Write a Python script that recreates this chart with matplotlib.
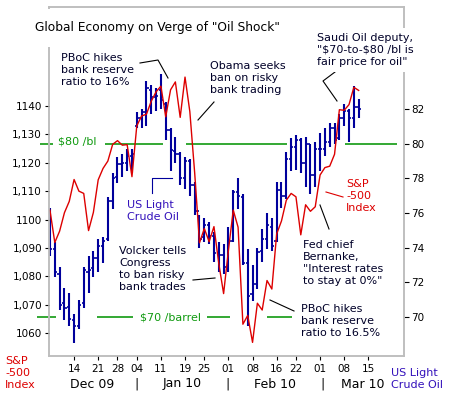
import numpy as np
import pandas as pd
import matplotlib
matplotlib.use("Agg")
import matplotlib.pyplot as plt
from matplotlib.lines import Line2D

W, H = 451, 399

# trading days (Dec 7, 2009 -> Mar 15, 2010), US market holidays removed
holidays = ["2009-12-25", "2010-01-01", "2010-01-18", "2010-02-15"]
calendar = pd.bdate_range("2009-12-07", "2010-03-15").drop(pd.to_datetime(holidays))

# S&P 500 daily close, Dec 7 .. Mar 11
spx = [1103.3, 1091.9, 1095.9, 1102.4, 1106.4, 1114.1, 1110.0, 1109.2, 1096.1, 1102.5,
       1114.0, 1118.0, 1120.6, 1126.5, 1127.8, 1126.2, 1126.4, 1115.1,
       1133.0, 1136.5, 1137.1, 1141.7, 1145.0, 1147.0, 1136.2, 1145.7, 1148.5, 1136.0,
       1150.2, 1138.0, 1116.5, 1091.8, 1096.8, 1092.2, 1097.5, 1084.5, 1073.9,
       1089.2, 1103.3, 1097.3, 1063.1, 1066.2, 1056.7, 1070.5, 1068.1, 1078.5, 1075.5,
       1094.9, 1099.5, 1106.8, 1109.2, 1108.0, 1094.6, 1105.2, 1102.9, 1104.5,
       1115.7, 1118.3, 1118.8, 1123.0, 1138.7, 1138.5, 1140.5, 1146.6, 1145.5]

# US light crude oil, daily bars
oil_open = [75.6, 73.9, 72.5, 70.8, 70.6, 69.8, 69.5, 70.8, 72.6, 72.8,
            73.4, 74.1, 74.5, 76.7, 78.1, 78.8, 78.9, 79.3,
            81.0, 81.5, 81.8, 83.1, 82.7, 83.1, 82.3, 80.8, 79.6, 79.4,
            78.0, 79.0, 77.6, 76.1, 74.6, 75.3, 74.7, 73.7, 73.6,
            72.9, 74.4, 77.2, 76.9, 73.1, 71.3, 71.9, 73.8, 74.5, 75.2,
            74.4, 77.3, 77.0, 79.1, 79.8, 80.2, 78.9, 80.0, 78.2,
            79.7, 79.7, 80.1, 80.9, 80.3, 81.5, 81.9, 81.5, 82.1]
oil_high = [76.3, 74.3, 72.9, 71.7, 71.4, 70.2, 71.0, 72.9, 73.5, 73.8,
            74.5, 74.6, 76.9, 78.3, 79.2, 79.4, 79.7, 79.7,
            81.8, 82.0, 83.6, 83.4, 83.2, 84.0, 82.4, 80.9, 80.4, 79.5,
            79.2, 79.1, 77.8, 75.9, 75.7, 75.5, 74.9, 74.3, 74.2,
            75.2, 77.3, 78.0, 77.1, 73.9, 73.0, 74.0, 75.1, 76.0, 75.7,
            77.8, 77.8, 79.5, 80.3, 80.5, 80.3, 80.4, 80.0, 80.1,
            80.6, 80.9, 81.2, 81.2, 81.7, 82.3, 82.0, 83.3, 82.6]
oil_low = [73.5, 72.3, 70.4, 69.8, 69.5, 68.5, 69.3, 70.5, 71.4, 72.3,
           72.6, 73.1, 74.4, 76.2, 77.7, 78.1, 78.4, 78.3,
           80.9, 80.9, 81.0, 81.7, 81.9, 82.0, 80.2, 78.4, 78.9, 77.6,
           77.4, 77.0, 75.9, 74.0, 74.3, 74.2, 73.2, 72.6, 72.5,
           72.6, 74.3, 76.2, 73.0, 69.5, 70.9, 71.6, 73.2, 73.9, 73.8,
           74.3, 76.3, 76.8, 78.4, 78.5, 78.3, 77.5, 77.1, 77.5,
           78.4, 79.3, 79.8, 80.0, 80.2, 81.0, 80.1, 80.9, 81.5]
oil_close = [73.9, 72.6, 70.7, 70.5, 69.9, 69.5, 70.7, 72.7, 72.7, 73.4,
             74.1, 74.4, 76.7, 78.0, 78.8, 78.9, 79.3, 79.4,
             81.5, 81.8, 83.2, 82.7, 82.75, 82.5, 80.8, 79.65, 79.4, 78.0,
             79.0, 77.6, 76.1, 74.5, 75.3, 74.7, 73.7, 73.6, 72.9,
             74.4, 77.2, 77.0, 73.1, 71.2, 71.9, 73.75, 74.5, 75.3, 74.1,
             77.3, 77.0, 79.1, 79.8, 80.2, 78.9, 80.0, 78.2, 79.7,
             79.7, 80.1, 80.9, 80.2, 81.5, 81.9, 81.5, 82.1, 82.0]

tick_dates = ["2009-12-14", "2009-12-21", "2009-12-28", "2010-01-04", "2010-01-11",
              "2010-01-19", "2010-01-25", "2010-02-01", "2010-02-08", "2010-02-16",
              "2010-02-22", "2010-03-01", "2010-03-08", "2010-03-15"]
spx_ticks = [1060, 1070, 1080, 1090, 1100, 1110, 1120, 1130, 1140]
spx_tick_labels = ["1060", "1,070", "1,080", "1,090", "1100", "1,110", "1,120", "1,130", "1140"]
oil_ticks = [70, 72, 74, 76, 78, 80, 82]

# green price-band segments (trading-day index spans)
band80 = [(-2.1, 0.6), (11.4, 23.4), (28.2, 49.2), (61.2, 72.0)]
band70 = [(-2.7, 1.2), (9.8, 17.2), (32.6, 37.3), (45.0, 50.2)]

RED = "#dd0000"
BLUE = "#00009c"
GREEN = "#109a10"
LABEL_BLUE = "#3311bb"
NOTE = "#000028"
FRAME = "#bdbdbd"


def fx(px):
    return px / W


def fy(py):
    return 1 - py / H


def note(px, py, s, color=NOTE, size=8, ha="left", bg=False):
    kw = {}
    if bg:
        kw["bbox"] = dict(facecolor="white", edgecolor="none", pad=4)
    fig.text(fx(px), fy(py), s, ha=ha, va="center", fontsize=size, color=color,
             linespacing=1.22, parse_math=False, **kw)


def leader(pts, color="black"):
    xs = [fx(p[0]) for p in pts]
    ys = [fy(p[1]) for p in pts]
    fig.add_artist(Line2D(xs, ys, color=color, lw=0.8))


x = np.arange(len(spx))
day_index = {d.strftime("%Y-%m-%d"): i for i, d in enumerate(calendar)}
xt = [day_index[d] for d in tick_dates]

fig = plt.figure(figsize=(W / 100, H / 100), dpi=100)
ax = fig.add_axes([fx(49), fy(356), fx(404) - fx(49), fy(7) - fy(356)])
ax2 = ax.twinx()
ax.set_zorder(2)
ax2.set_zorder(1)
ax.patch.set_visible(False)

ax.set_xlim(-0.2, 73.4)
ax.set_ylim(1051.9, 1174.9)
ax2.set_ylim(67.75, 87.88)

# oil bars
ax2.vlines(x, oil_low, oil_high, color=BLUE, lw=1.5)
ax2.hlines(oil_open, x - 0.45, x, color=BLUE, lw=1.2)
ax2.hlines(oil_close, x, x + 0.45, color=BLUE, lw=1.2)

for a, b in band80:
    ax2.hlines(80, a, b, color=GREEN, lw=1.2, clip_on=False)
for a, b in band70:
    ax2.hlines(70, a, b, color=GREEN, lw=1.2, clip_on=False)

ax.plot(x, spx, color=RED, lw=1.0)

for a in (ax, ax2):
    for sp in a.spines.values():
        sp.set_color(FRAME)
        sp.set_linewidth(1.1)

ax.set_yticks(spx_ticks)
ax.set_yticklabels(spx_tick_labels)
ax.tick_params(axis="y", length=3, width=0.8, pad=2, labelsize=7.5, colors="black")
ax2.set_yticks(oil_ticks)
ax2.tick_params(axis="y", length=3.5, width=0.8, pad=1.5, labelsize=7.5, colors="black")
ax.set_xticks(xt)
ax.set_xticklabels(["14", "21", "28", "04", "11", "19", "25", "01", "08", "16",
                    "22", "01", "08", "15"])
ax.tick_params(axis="x", length=3, width=0.8, pad=2.5, labelsize=7.5, colors="black")

# title
fig.text(fx(35), fy(28), 'Global Economy on Verge of "Oil Shock"', ha="left", va="center",
         fontsize=8.8, color="black", parse_math=False,
         bbox=dict(facecolor="white", edgecolor="none", pad=9))

# annotations
note(61, 70, "PBoC hikes\nbank reserve\nratio to 16%")
leader([(140, 63), (158, 60), (168, 78)])
note(210, 78, "Obama seeks\nban on risky\nbank trading")
leader([(214, 102), (198, 120)])
note(317, 50, 'Saudi Oil deputy,\n"$70-to-$80 /bl is\nfair price for oil"', bg=True)
leader([(335, 72), (323, 81), (337, 101)])
note(127, 211, "US Light\nCrude Oil", color=LABEL_BLUE)
leader([(152, 193), (152, 178), (172, 178)], color=BLUE)
note(346, 196, "S&P\n-500\nIndex", color=RED)
leader([(326, 192), (343, 197)], color=RED)
note(119, 269, "Volcker tells\nCongress\nto ban risky\nbank trades")
leader([(193, 280), (215, 278)])
note(303, 263, 'Fed chief\nBernanke,\n"Interest rates\nto stay at 0%"')
leader([(329, 229), (320, 205)])
note(301, 321, "PBoC hikes\nbank reserve\nratio to 16.5%")
leader([(294, 311), (270, 300)])

note(58, 142, "$80 /bl", color=GREEN)
note(140, 318, "$70 /barrel", color=GREEN)

# bottom labels
note(5, 373, "S&P\n-500\nIndex", color=RED, size=8)
note(391, 379, "US Light\nCrude Oil", color=LABEL_BLUE, size=8)
for px, s in [(92, "Dec 09"), (137, "|"), (182, "Jan 10"), (228, "|"),
              (275, "Feb 10"), (322, "|"), (363, "Mar 10")]:
    note(px, 384, s, color="black", size=9, ha="center")

fig.savefig("out.png", dpi=100, facecolor="white")
